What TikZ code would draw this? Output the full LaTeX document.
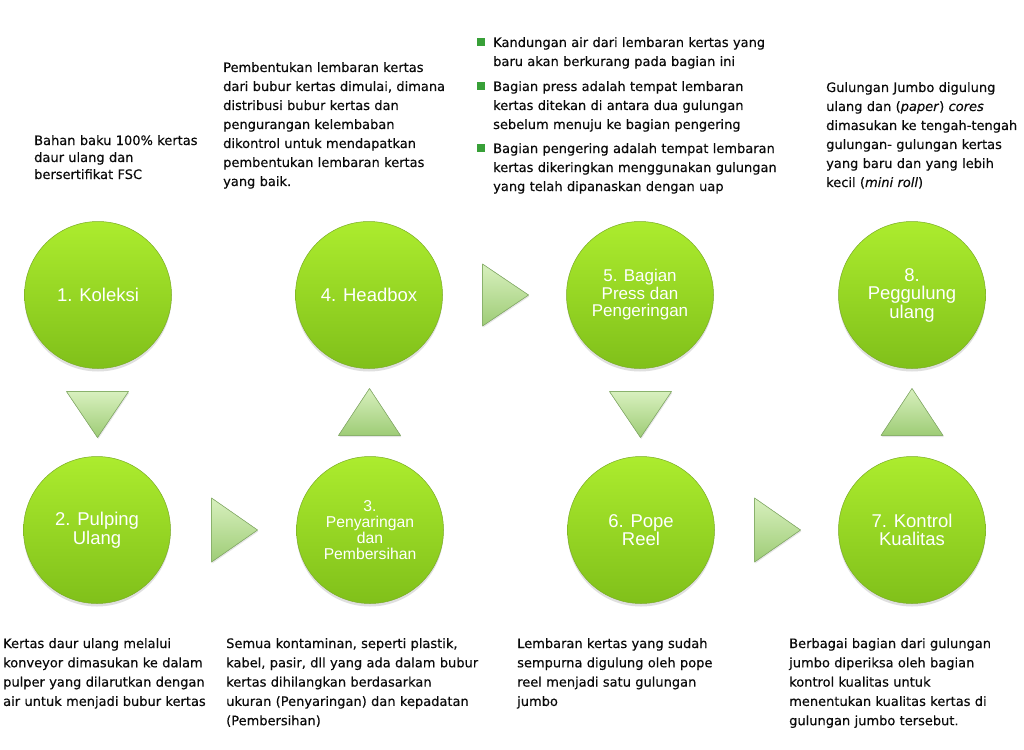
\documentclass[tikz,border=0pt]{standalone}
\usepackage{fontspec}
\setmainfont{DejaVu Sans}[FakeBold=0.35]
\newfontfamily\circfont{Liberation Sans}
\usetikzlibrary{calc,shadows}
\definecolor{limetop}{RGB}{172,236,46}
\definecolor{limebot}{RGB}{128,192,26}
\definecolor{limeedge}{RGB}{122,172,38}
\definecolor{tritop}{RGB}{216,240,190}
\definecolor{tribot}{RGB}{158,204,118}
\definecolor{triedge}{RGB}{138,178,108}
\definecolor{bulletgreen}{RGB}{56,160,56}
\definecolor{txt}{RGB}{10,10,10}
\begin{document}
\begin{tikzpicture}[x=1pt,y=-1pt,
  circ/.style={circle, minimum size=147pt, inner sep=0pt,
    top color=limetop, bottom color=limebot, draw=limeedge, line width=0.5pt,
    drop shadow={shadow xshift=0pt, shadow yshift=-3pt, opacity=0.25},
    text=white, align=center},
  big/.style={font=\circfont\fontsize{18.5}{18.5}\selectfont},
  mid/.style={font=\circfont\fontsize{17}{17.5}\selectfont},
  small/.style={font=\circfont\fontsize{15.7}{16}\selectfont},
  tri/.style={top color=tritop, bottom color=tribot, draw=triedge, line width=0.6pt, line join=round,
    drop shadow={shadow xshift=0.8pt, shadow yshift=-1.5pt, opacity=0.2}},
  txtblock/.style={anchor=base west, inner sep=0pt, align=left, text width=#1, text=txt},
  txtblock/.default=300pt,
  sp17/.style={font=\fontsize{13}{17}\selectfont},
  sp19/.style={font=\fontsize{13}{19}\selectfont},
  sp193/.style={font=\fontsize{13}{19.3}\selectfont},
]
\useasboundingbox (0,0) rectangle (1024,749);
\fill[white] (0,0) rectangle (1024,749);

% circles
\node[circ,big]   (c1) at (98,295)  {1. Koleksi};
\node[circ,big]   (c2) at (97,530)  {2. Pulping\\Ulang};
\node[circ,small] (c3) at (370,530) {3.\\Penyaringan\\dan\\Pembersihan};
\node[circ,big]   (c4) at (369,295) {4. Headbox};
\node[circ,mid]   (c5) at (640,295) {5. Bagian\\Press dan\\Pengeringan};
\node[circ,big]   (c6) at (641,530) {6. Pope\\Reel};
\node[circ,big]   (c7) at (912,530) {7. Kontrol\\Kualitas};
\node[circ,big]   (c8) at (912,295) {8.\\Peggulung\\ulang};

% arrow triangles
\coordinate (m12) at ($(c1)!0.5!(c2)$);
\coordinate (m23) at ($(c2)!0.5!(c3)$);
\coordinate (m34) at ($(c3)!0.5!(c4)$);
\coordinate (m45) at ($(c4)!0.5!(c5)$);
\coordinate (m56) at ($(c5)!0.5!(c6)$);
\coordinate (m67) at ($(c6)!0.5!(c7)$);
\coordinate (m78) at ($(c7)!0.5!(c8)$);
\filldraw[tri] (m12) ++(-31,-21) -- ++(62,0) -- ++(-31,46) -- cycle;
\filldraw[tri] (m23) ++(-22,-32) -- ++(46,32) -- ++(-46,32) -- cycle;
\filldraw[tri] (m34) ++(-31,23) -- ++(62,0) -- ++(-31,-47) -- cycle;
\filldraw[tri] (m45) ++(-22,-31) -- ++(46,31) -- ++(-46,31) -- cycle;
\filldraw[tri] (m56) ++(-31,-21) -- ++(62,0) -- ++(-31,46) -- cycle;
\filldraw[tri] (m67) ++(-22,-32) -- ++(46,32) -- ++(-46,32) -- cycle;
\filldraw[tri] (m78) ++(-31,23) -- ++(62,0) -- ++(-31,-47) -- cycle;

% top texts
\node[txtblock=200pt,sp17] (t1) at (34,145) {Bahan baku 100\% kertas\\daur ulang dan\\bersertifikat FSC};
\node[txtblock=250pt,sp19] (t4) at (223,72) {Pembentukan lembaran kertas\\dari bubur kertas dimulai, dimana\\distribusi bubur kertas dan\\pengurangan kelembaban\\dikontrol untuk mendapatkan\\pembentukan lembaran kertas\\yang baik.};
\fill[bulletgreen] (477,38) rectangle (485,46);
\fill[bulletgreen] (477,82) rectangle (485,90);
\fill[bulletgreen] (477,144) rectangle (485,152);
\node[txtblock=320pt,sp19] (t5a) at (493,47) {Kandungan air dari lembaran kertas yang\\baru akan berkurang pada bagian ini};
\node[txtblock=320pt,sp19] (t5b) at (493,91) {Bagian press adalah tempat lembaran\\kertas ditekan di antara dua gulungan\\sebelum menuju ke bagian pengering};
\node[txtblock=320pt,sp19] (t5c) at (493,153) {Bagian pengering adalah tempat lembaran\\kertas dikeringkan menggunakan gulungan\\yang telah dipanaskan dengan uap};
\node[txtblock=198pt,sp19] (t8) at (826,92) {Gulungan Jumbo digulung\\ulang dan (\textit{paper}) \textit{cores}\\dimasukan ke tengah-tengah\\gulungan- gulungan kertas\\yang baru dan yang lebih\\kecil (\textit{mini roll})};

% bottom texts
\node[txtblock=215pt,sp193] (t2) at (3,648) {Kertas daur ulang melalui\\konveyor dimasukan ke dalam\\pulper yang dilarutkan dengan\\air untuk menjadi bubur kertas};
\node[txtblock=280pt,sp193] (t3) at (226,648) {Semua kontaminan, seperti plastik,\\kabel, pasir, dll yang ada dalam bubur\\kertas dihilangkan berdasarkan\\ukuran (Penyaringan) dan kepadatan\\(Pembersihan)};
\node[txtblock=250pt,sp193] (t6) at (517,648) {Lembaran kertas yang sudah\\sempurna digulung oleh pope\\reel menjadi satu gulungan\\jumbo};
\node[txtblock=230pt,sp193] (t7) at (789,648) {Berbagai bagian dari gulungan\\jumbo diperiksa oleh bagian\\kontrol kualitas untuk\\menentukan kualitas kertas di\\gulungan jumbo tersebut.};
\end{tikzpicture}
\end{document}
